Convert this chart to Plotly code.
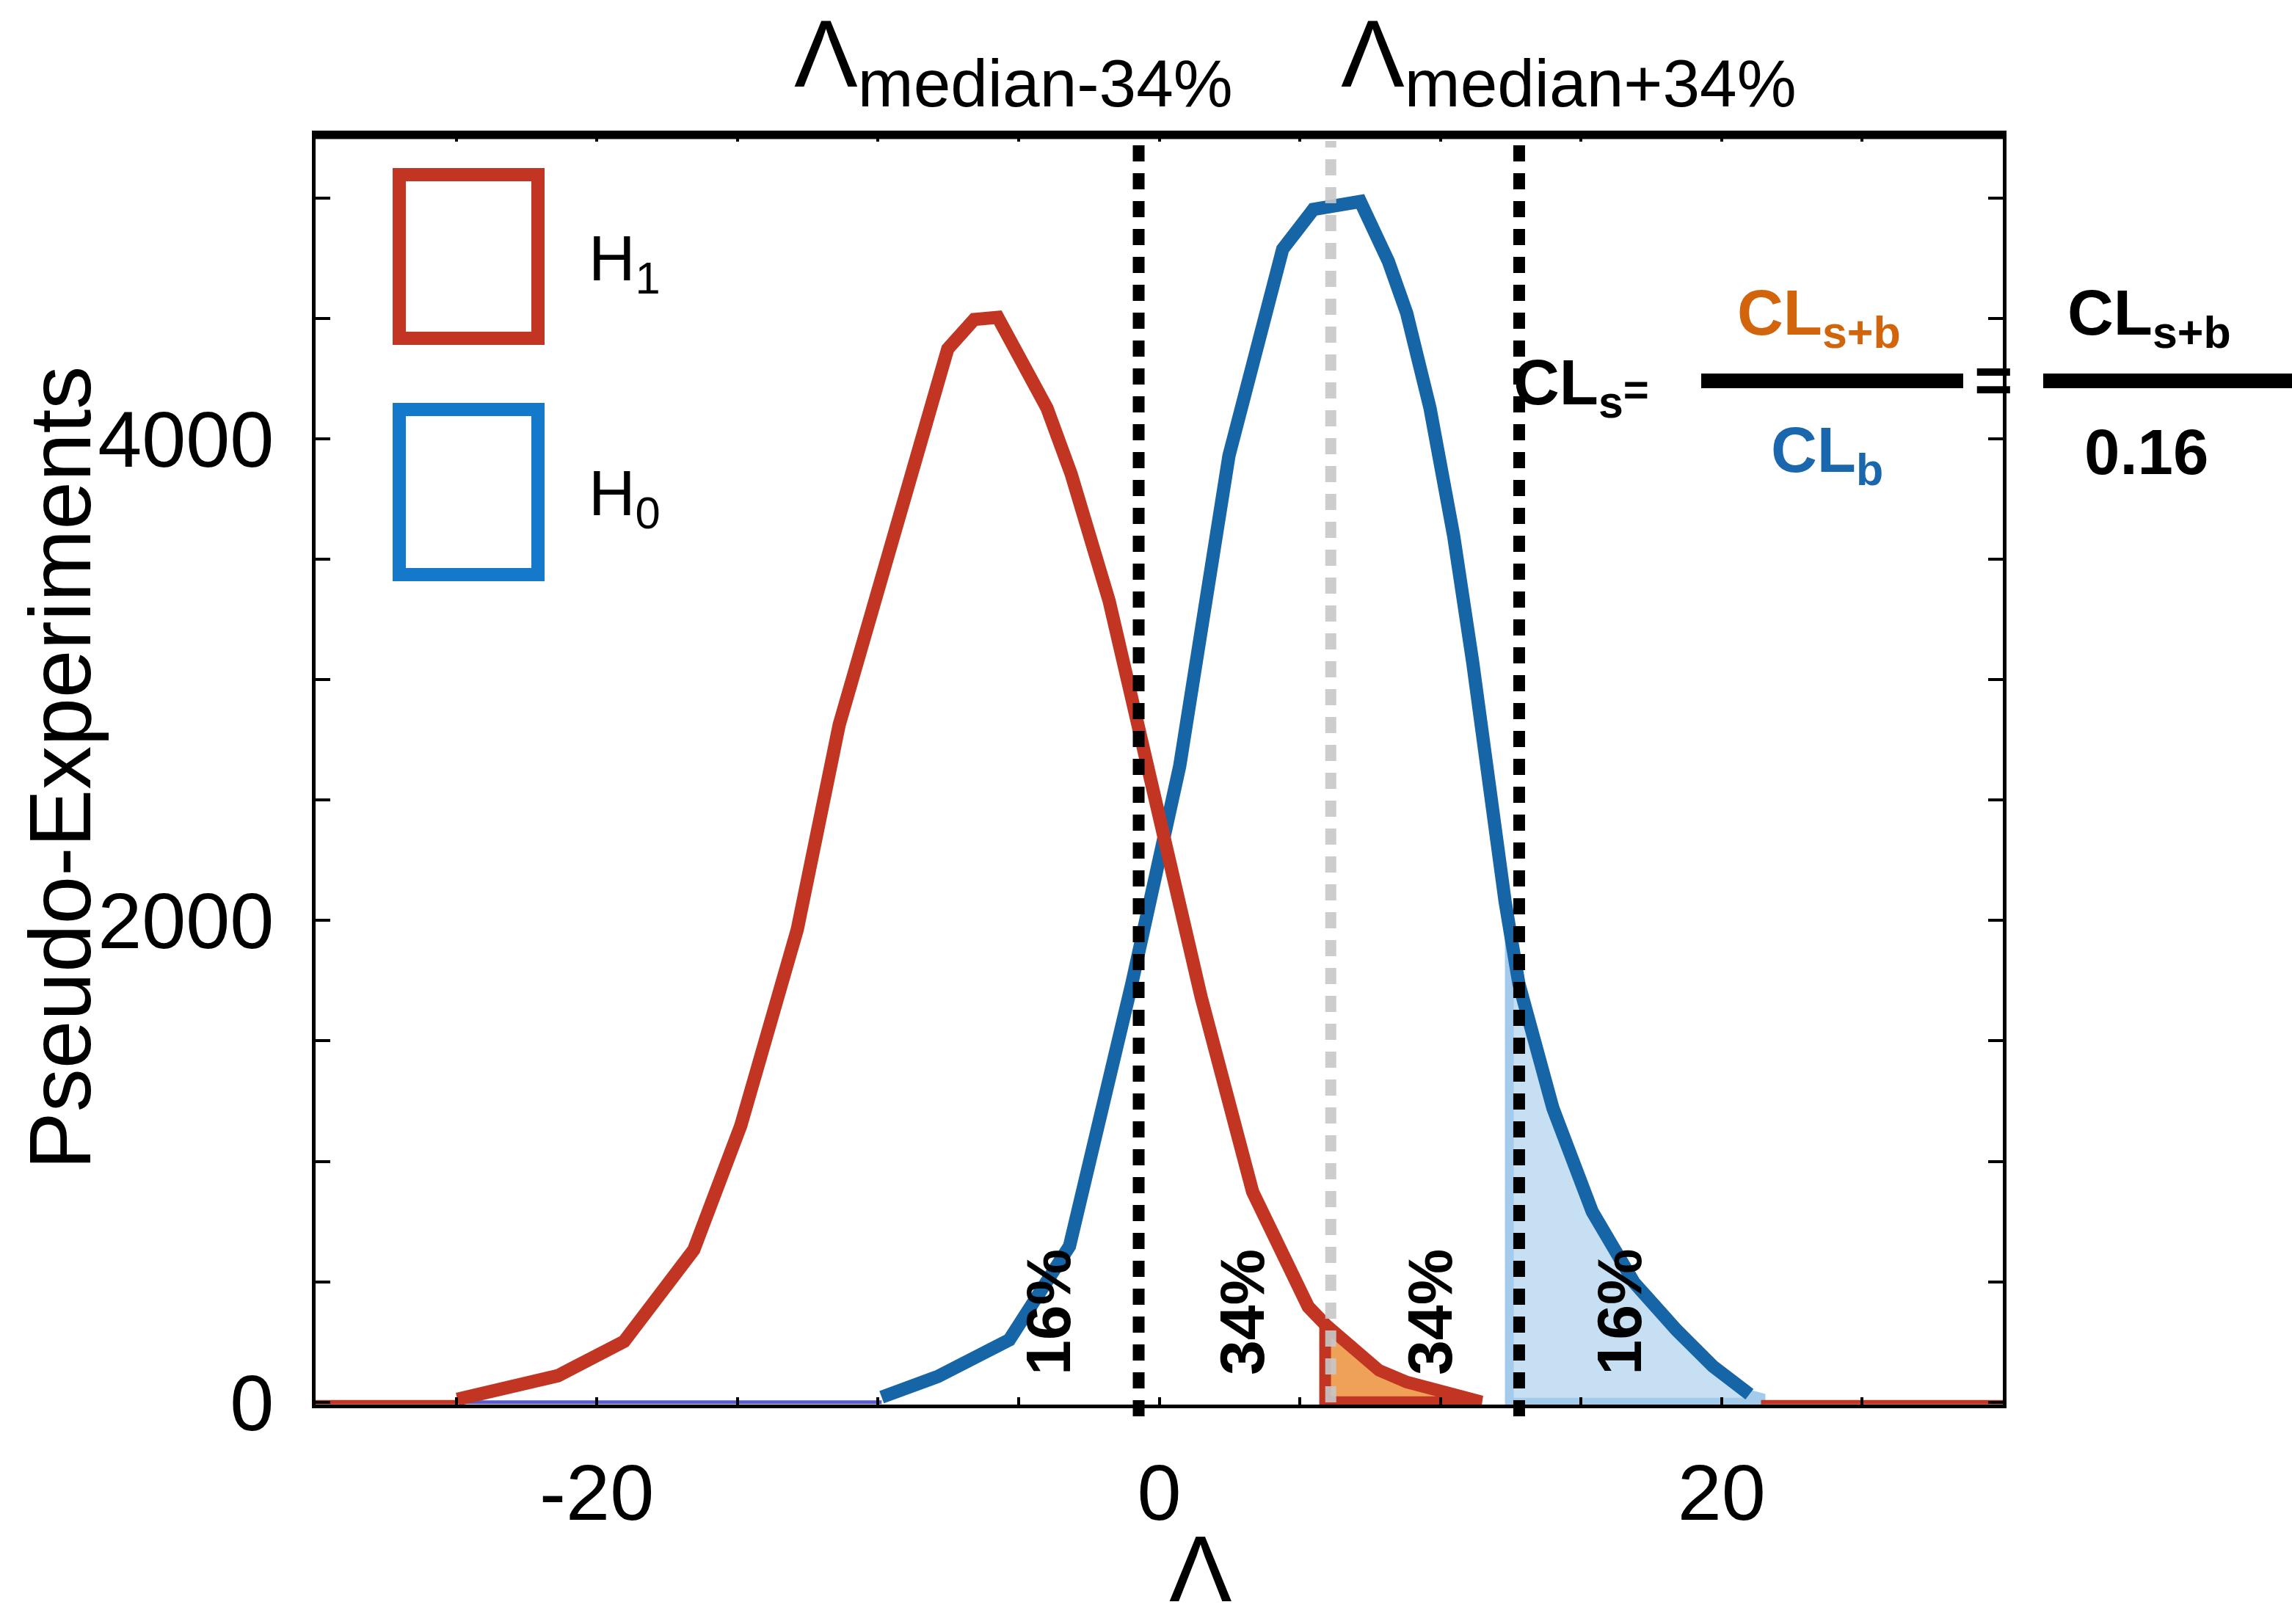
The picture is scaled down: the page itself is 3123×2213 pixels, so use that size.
import numpy as np
import plotly.graph_objects as go

# Pseudo-experiment distributions of the test statistic Lambda
h1_lambda = [-24.96, -21.38, -19.03, -16.55, -14.88, -12.87, -11.38, -8.96, -7.52, -6.58,
             -5.74, -3.99, -3.13, -1.78, -0.86, -0.52, 1.49, 3.32, 5.30, 5.98, 7.81, 8.80, 11.46]
h1_counts = [12, 110, 252, 633, 1148, 1963, 2813, 3811, 4374, 4496,
             4505, 4128, 3854, 3327, 2871, 2673, 1683, 874, 396, 314, 131, 82, 0]

h0_lambda = [-9.87, -7.86, -5.33, -3.19, -0.97, 0.73, 2.48, 3.32, 4.39, 5.48, 7.15, 8.15, 8.80,
             9.63, 10.47, 11.15, 11.64, 12.30, 12.79, 14.0, 15.40, 16.89, 18.41, 19.69, 20.99]
h0_counts = [21, 107, 259, 648, 1740, 2642, 3930, 4326, 4788, 4953, 4986, 4737, 4523,
             4128, 3598, 3071, 2609, 2079, 1738, 1221, 791, 496, 298, 149, 33]

# Quantiles of the H0 distribution
lam_minus34 = -0.73
lam_median = 6.1
lam_plus34 = 12.8

# Integration limits of the shaded tails
cls_b_from = 5.9
cl_b_from = 12.45
cl_b_to = 21.4

x_tick_vals = [-20, 0, 20]
x_tick_text = ["-20", "0", "20"]
x_minor_vals = [-25, -15, -10, -5, 5, 10, 15, 25]
y_tick_vals = [0, 2000, 4000]
y_tick_text = ["0", "2000", "4000"]
y_minor_vals = [500, 1000, 1500, 2500, 3000, 3500, 4500, 5000]

pct_labels = ["16%", "34%", "34%", "16%"]

RED = "#C13522"
BLUE = "#1565A7"
LEG_BLUE = "#1479CB"
FONT = "Liberation Sans, Arial, Helvetica, sans-serif"

W, H = 3123, 2213
L, R, T, B = 430, 2729, 183, 1914


def px(X):
    return (X - L) / (R - L)


def py(Y):
    return (B - Y) / (B - T)


fig = go.Figure()

# light-blue CL_b tail of H0
bx = np.array(h0_lambda)
by = np.array(h0_counts)
sel = bx > cl_b_from
b_start = float(np.interp(cl_b_from, bx, by))
fill_x = [cl_b_from] + list(bx[sel]) + [cl_b_to, cl_b_to, cl_b_from, cl_b_from]
fill_y = [b_start] + list(by[sel]) + [20, 0, 0, b_start]
fig.add_trace(go.Scatter(x=fill_x, y=fill_y, mode="lines", fill="toself",
                         fillcolor="#C7DFF3", line=dict(color="#A5CBEC", width=12),
                         hoverinfo="skip", showlegend=False))

# zero-count stretches along the axis
fig.add_trace(go.Scatter(x=[-30, h1_lambda[0]], y=[0, 0], mode="lines",
                         line=dict(color=RED, width=6), showlegend=False))
fig.add_trace(go.Scatter(x=[h1_lambda[0], h0_lambda[0]], y=[0, 0], mode="lines",
                         line=dict(color="#5B5BD0", width=5), showlegend=False))
fig.add_trace(go.Scatter(x=[cl_b_to, 30], y=[0, 0], mode="lines",
                         line=dict(color=RED, width=6), showlegend=False))

# H0 curve
fig.add_trace(go.Scatter(x=h0_lambda, y=h0_counts, mode="lines", name="H0",
                         line=dict(color=BLUE, width=18), showlegend=False))

# H1 curve
fig.add_trace(go.Scatter(x=h1_lambda, y=h1_counts, mode="lines", name="H1",
                         line=dict(color=RED, width=18), showlegend=False))

# orange CL_s+b tail of H1
rx = np.array(h1_lambda)
ry = np.array(h1_counts)
sel = rx > cls_b_from
o_start = float(np.interp(cls_b_from, rx, ry))
ofill_x = [cls_b_from] + list(rx[sel]) + [cls_b_from, cls_b_from]
ofill_y = [o_start] + list(ry[sel]) + [0, o_start]
fig.add_trace(go.Scatter(x=ofill_x, y=ofill_y, mode="lines", fill="toself",
                         fillcolor="#F0A158", line=dict(color=RED, width=16),
                         hoverinfo="skip", showlegend=False))

shapes = []
# quantile lines
shapes.append(dict(type="line", xref="x", yref="paper", x0=lam_median, x1=lam_median,
                   y0=py(1911), y1=py(192), layer="above",
                   line=dict(color="rgba(200,200,200,0.9)", width=15, dash="22px,16px")))
for xv in [lam_minus34, lam_plus34]:
    shapes.append(dict(type="line", xref="x", yref="paper", x0=xv, x1=xv,
                       y0=py(1930), y1=py(192), layer="above",
                       line=dict(color="black", width=16, dash="22px,16px")))

# heavy top frame
shapes.append(dict(type="line", xref="paper", yref="paper", x0=px(L - 2), x1=px(R + 2),
                   y0=py(T + 2), y1=py(T + 2), line=dict(color="black", width=9)))

# legend boxes
shapes.append(dict(type="rect", xref="paper", yref="paper", x0=px(544), x1=px(733),
                   y0=py(238), y1=py(461), line=dict(color=RED, width=18)))
shapes.append(dict(type="rect", xref="paper", yref="paper", x0=px(544), x1=px(733),
                   y0=py(558), y1=py(783), line=dict(color=LEG_BLUE, width=18)))

# fraction bars
shapes.append(dict(type="line", xref="paper", yref="paper", x0=px(2318), x1=px(2675),
                   y0=py(519), y1=py(519), line=dict(color="black", width=20)))
shapes.append(dict(type="line", xref="paper", yref="paper", x0=px(2784), x1=px(3130),
                   y0=py(519), y1=py(519), line=dict(color="black", width=20)))

ann = []


def text(t, X, Y, size, color="black", xanchor="left", angle=0, yanchor="middle"):
    ann.append(dict(text=t, x=px(X), y=py(Y), xref="paper", yref="paper",
                    xanchor=xanchor, yanchor=yanchor, showarrow=False, textangle=angle,
                    font=dict(family=FONT, size=size, color=color)))


text("Λ<sub>median-34%</sub>", 1080, 82, 130)
text("Λ<sub>median+34%</sub>", 1825, 82, 130)
text("H<sub>1</sub>", 800, 357, 88)
text("H<sub>0</sub>", 800, 677, 88)

text("<b>CL<sub>s</sub></b><span style='font-size:60px'><b>=</b></span>", 2060, 527, 87)
text("<b>CL<sub>s+b</sub></b>", 2365, 432, 87, color="#D2640C")
text("<b>CL<sub>s+b</sub></b>", 2815, 432, 87)
text("<b>CL<sub>b</sub></b>", 2411, 619, 87, color="#1A67AE")
text("<b>0.16</b>", 2838, 615, 87)
text("<b>=</b>", 2716, 518, 90, xanchor="center")

text("Λ", 1636, 2211, 128, xanchor="center", yanchor="bottom")
text("Pseudo-Experiments", 82, (T + 1911) / 2, 118, xanchor="center", angle=-90)

for lbl, xv in zip(pct_labels, [-3.97, 2.92, 9.6, 16.35]):
    ann.append(dict(text="<b>" + lbl + "</b>", x=xv, y=375, xref="x", yref="y",
                    xanchor="center", yanchor="middle", showarrow=False, textangle=-90,
                    font=dict(family=FONT, size=86, color="black")))

fig.update_layout(
    width=W, height=H,
    margin=dict(l=L, r=W - R, t=T, b=H - B, pad=0),
    paper_bgcolor="white", plot_bgcolor="white",
    shapes=shapes, annotations=ann,
    font=dict(family=FONT, color="black"),
    xaxis=dict(range=[-30, 30], tickvals=x_tick_vals, ticktext=x_tick_text,
               ticks="inside", ticklen=10, tickwidth=4, tickcolor="black",
               minor=dict(tickvals=x_minor_vals, ticks="inside", ticklen=10,
                          tickwidth=4, tickcolor="black", showgrid=False),
               showline=True, linecolor="black", linewidth=5, mirror="ticks",
               showgrid=False, zeroline=False, ticklabelstandoff=22,
               tickfont=dict(size=108, family=FONT, color="black")),
    yaxis=dict(range=[-10, 5265], tickvals=y_tick_vals, ticktext=y_tick_text,
               ticks="inside", ticklen=20, tickwidth=4, tickcolor="black",
               minor=dict(tickvals=y_minor_vals, ticks="inside", ticklen=20,
                          tickwidth=4, tickcolor="black", showgrid=False),
               showline=True, linecolor="black", linewidth=5, mirror="ticks",
               showgrid=False, zeroline=False, ticklabelstandoff=30,
               tickfont=dict(size=108, family=FONT, color="black")),
)

fig.write_html("out.html")
